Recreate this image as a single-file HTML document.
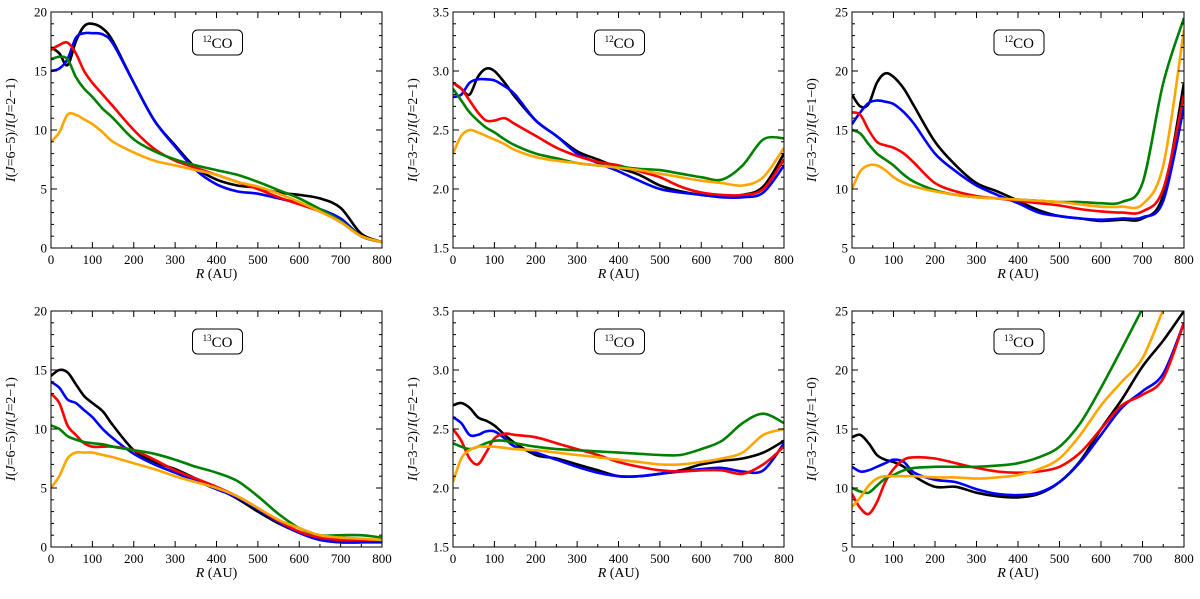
<!DOCTYPE html>
<html><head><meta charset="utf-8"><style>
body{margin:0;background:#fff}
svg{display:block}
text{font-family:"Liberation Serif",serif;fill:#000}
</style></head><body>
<svg id="fig" width="1200" height="599" viewBox="0 0 1200 599" xmlns="http://www.w3.org/2000/svg"></svg>
<script>
const radii=[0,20,40,60,80,100,125,150,200,250,300,350,400,450,500,550,600,650,700,750,800];
const seriesNames=["black","blue","red","green","orange"];
const seriesColors={black:"#000000",blue:"#0000ff",red:"#ff0000",green:"#008000",orange:"#ffa500"};
// Panel 1: 12CO I(6-5)/I(2-1)
const p1Black=[17,16.5,15.5,17.5,18.8,19,18.6,17.5,14,10.8,8.7,6.8,5.8,5.3,5.1,4.7,4.5,4.2,3.4,1.2,0.5];
const p1Blue=[15,15.2,16,17.8,18.2,18.2,18.1,17.3,14,10.8,8.6,6.6,5.4,4.8,4.6,4.2,3.8,3.3,2.5,1.0,0.5];
const p1Red=[16.8,17.2,17.4,16.5,15,14,13,12,10,8.4,7.4,6.8,6.2,5.6,5.0,4.3,3.7,3.1,2.2,1.0,0.5];
const p1Green=[16,16.2,16,14.5,13.5,12.8,11.8,11,9.2,8.2,7.5,7.0,6.6,6.2,5.6,4.9,4.2,3.3,2.3,1.0,0.5];
const p1Orange=[9,9.8,11.3,11.3,10.9,10.5,9.8,9.0,8.1,7.4,7.0,6.6,6.2,5.6,5.2,4.6,3.9,3.1,2.2,1.0,0.5];
// Panel 2: 12CO I(3-2)/I(2-1)
const p2Black=[2.9,2.85,2.8,2.95,3.02,3.0,2.9,2.78,2.58,2.45,2.32,2.25,2.18,2.12,2.03,1.98,1.95,1.94,1.95,2.02,2.3];
const p2Blue=[2.78,2.8,2.9,2.93,2.93,2.92,2.87,2.8,2.58,2.45,2.3,2.22,2.15,2.07,2.0,1.97,1.95,1.93,1.93,1.97,2.2];
const p2Red=[2.9,2.85,2.75,2.65,2.58,2.58,2.6,2.55,2.45,2.35,2.28,2.23,2.2,2.15,2.1,2.02,1.97,1.95,1.95,2.0,2.25];
const p2Green=[2.85,2.75,2.65,2.58,2.52,2.48,2.42,2.37,2.3,2.26,2.22,2.2,2.19,2.17,2.16,2.13,2.1,2.08,2.2,2.42,2.43];
const p2Orange=[2.3,2.45,2.5,2.48,2.45,2.42,2.38,2.33,2.27,2.24,2.22,2.2,2.18,2.16,2.13,2.1,2.07,2.05,2.03,2.1,2.35];
// Panel 3: 12CO I(3-2)/I(1-0)
const p3Black=[18,17,17.2,19,19.8,19.5,18.5,17,14,12,10.5,9.8,9,8.2,7.7,7.5,7.3,7.4,7.5,9.5,19];
const p3Blue=[15.5,16.5,17.3,17.5,17.4,17.2,16.5,15.5,13,11.5,10.3,9.5,8.8,8,7.7,7.5,7.4,7.5,7.6,9,17];
const p3Red=[16.5,16.3,15,14,13.7,13.5,13,12.2,10.5,9.8,9.4,9.2,9,8.8,8.6,8.3,8.1,8.0,8.1,10,18];
const p3Green=[15,14.7,13.8,13,12.5,12,11.2,10.6,9.9,9.5,9.3,9.2,9.1,9.0,8.9,8.9,8.8,8.9,10.5,19,24.5];
const p3Orange=[10,11.5,12,12,11.6,11,10.5,10.2,9.8,9.5,9.3,9.2,9.1,9.0,8.9,8.7,8.5,8.5,8.7,12,23.5];
// Panel 4: 13CO I(6-5)/I(2-1)
const p4Black=[14.5,15,14.8,13.8,12.8,12.2,11.5,10.3,8.2,7.2,6.6,5.8,5.0,4.1,3.0,2.0,1.2,0.6,0.4,0.4,0.5];
const p4Blue=[14,13.5,12.5,12.2,11.6,11,10,9.2,7.9,7.0,6.3,5.6,4.9,4.2,3.2,2.1,1.2,0.6,0.4,0.4,0.4];
const p4Red=[13,12.2,10.3,9.5,8.8,8.5,8.5,8.5,8.2,7.4,6.5,5.8,5.1,4.3,3.3,2.2,1.3,0.8,0.6,0.6,0.6];
const p4Green=[10.3,10,9.4,9.1,8.9,8.8,8.7,8.5,8.2,7.9,7.4,6.8,6.3,5.6,4.3,2.8,1.6,1.0,1.0,1.0,0.8];
const p4Orange=[5,6,7.5,8,8,8,7.8,7.6,7.1,6.6,6.0,5.5,5.0,4.3,3.3,2.3,1.6,1.0,0.8,0.7,0.6];
// Panel 5: 13CO I(3-2)/I(2-1)
const p5Black=[2.7,2.72,2.68,2.6,2.57,2.53,2.45,2.38,2.28,2.25,2.2,2.15,2.1,2.1,2.12,2.15,2.2,2.23,2.25,2.3,2.4];
const p5Blue=[2.6,2.55,2.45,2.45,2.48,2.48,2.42,2.35,2.3,2.24,2.18,2.13,2.1,2.1,2.12,2.14,2.16,2.17,2.14,2.15,2.38];
const p5Red=[2.5,2.4,2.25,2.2,2.3,2.42,2.46,2.45,2.43,2.38,2.33,2.28,2.22,2.18,2.15,2.14,2.15,2.15,2.12,2.2,2.35];
const p5Green=[2.38,2.35,2.33,2.35,2.38,2.4,2.4,2.38,2.35,2.33,2.32,2.31,2.3,2.29,2.28,2.28,2.33,2.4,2.55,2.63,2.55];
const p5Orange=[2.05,2.25,2.32,2.35,2.35,2.35,2.34,2.33,2.32,2.3,2.28,2.26,2.24,2.22,2.2,2.2,2.22,2.25,2.3,2.45,2.5];
// Panel 6: 13CO I(3-2)/I(1-0)
const p6Black=[14.3,14.5,13.8,12.8,12.4,12.2,11.8,11,10.1,10.1,9.6,9.3,9.2,9.5,10.5,12.3,15,17.5,20.3,22.5,25];
const p6Blue=[11.8,11.4,11.5,11.8,12.1,12.4,12.2,11.3,10.7,10.5,9.9,9.5,9.4,9.6,10.5,12.2,14.5,16.8,18.2,19.7,24];
const p6Red=[9.5,8.3,7.8,8.8,10.5,11.6,12.4,12.6,12.5,12.1,11.7,11.4,11.3,11.4,11.8,13,15,17,17.9,19.3,24];
const p6Green=[10,9.7,9.6,10.2,10.8,11.1,11.5,11.7,11.8,11.8,11.8,11.9,12.1,12.6,13.5,15.5,18.5,21.8,25.2,28.5,32];
const p6Orange=[8.4,9.2,10.2,10.8,11,11,11,11,10.9,10.9,10.8,10.9,11.1,11.6,12.5,14.5,17,19,21,25.1,29];

const yTicksA=[0,5,10,15,20], yTicksB=[1.5,2.0,2.5,3.0,3.5], yTicksC=[5,10,15,20,25];
const yTickLabelsB=["1.5","2.0","2.5","3.0","3.5"];
const xTicks=[0,100,200,300,400,500,600,700,800];

const panels=[
 {id:"p1",x0:51,x1:382,y0:12,y1:248,ymin:0,ymax:20,ticks:yTicksA,labels:null,minor:1,iso:"12",ylab:["6\u22125","2\u22121"],data:[p1Black,p1Blue,p1Red,p1Green,p1Orange]},
 {id:"p2",x0:453,x1:784,y0:12,y1:248,ymin:1.5,ymax:3.5,ticks:yTicksB,labels:yTickLabelsB,minor:0.1,iso:"12",ylab:["3\u22122","2\u22121"],data:[p2Black,p2Blue,p2Red,p2Green,p2Orange]},
 {id:"p3",x0:852,x1:1184,y0:12,y1:248,ymin:5,ymax:25,ticks:yTicksC,labels:null,minor:1,iso:"12",ylab:["3\u22122","1\u22120"],data:[p3Black,p3Blue,p3Red,p3Green,p3Orange]},
 {id:"p4",x0:51,x1:382,y0:311,y1:547,ymin:0,ymax:20,ticks:yTicksA,labels:null,minor:1,iso:"13",ylab:["6\u22125","2\u22121"],data:[p4Black,p4Blue,p4Red,p4Green,p4Orange]},
 {id:"p5",x0:453,x1:784,y0:311,y1:547,ymin:1.5,ymax:3.5,ticks:yTicksB,labels:yTickLabelsB,minor:0.1,iso:"13",ylab:["3\u22122","2\u22121"],data:[p5Black,p5Blue,p5Red,p5Green,p5Orange]},
 {id:"p6",x0:852,x1:1184,y0:311,y1:547,ymin:5,ymax:25,ticks:yTicksC,labels:null,minor:1,iso:"13",ylab:["3\u22122","1\u22120"],data:[p6Black,p6Blue,p6Red,p6Green,p6Orange]}
];
const NS="http://www.w3.org/2000/svg";
const svg=document.getElementById('fig');
function mk(tag,attrs,parent){const e=document.createElementNS(NS,tag);for(const k in attrs)e.setAttribute(k,attrs[k]);(parent||svg).appendChild(e);return e;}
function smoothPath(pts){let d="M"+pts[0][0].toFixed(1)+","+pts[0][1].toFixed(1);
 for(let i=0;i<pts.length-1;i++){const p0=pts[Math.max(0,i-1)],p1=pts[i],p2=pts[i+1],p3=pts[Math.min(pts.length-1,i+2)];
  const c1=[p1[0]+(p2[0]-p0[0])/6,p1[1]+(p2[1]-p0[1])/6],c2=[p2[0]-(p3[0]-p1[0])/6,p2[1]-(p3[1]-p1[1])/6];
  d+=" C"+c1[0].toFixed(1)+","+c1[1].toFixed(1)+" "+c2[0].toFixed(1)+","+c2[1].toFixed(1)+" "+p2[0].toFixed(1)+","+p2[1].toFixed(1);}
 return d;}
panels.forEach((p,pi)=>{
 const g=mk('g',{});
 
 
 const xs=v=>p.x0+(v/800)*(p.x1-p.x0);
 const ys=v=>p.y1-(v-p.ymin)/(p.ymax-p.ymin)*(p.y1-p.y0);
 const cp=mk('clipPath',{id:'clip'+pi},g);
 mk('rect',{x:p.x0,y:p.y0,width:p.x1-p.x0,height:p.y1-p.y0},cp);
 // series
 p.data.forEach((arr,si)=>{
  const pts=radii.map((r,i)=>[xs(r),ys(arr[i])]);
  const path=mk('path',{d:smoothPath(pts),fill:'none',stroke:seriesColors[seriesNames[si]],'stroke-width':2.6,'clip-path':'url(#clip'+pi+')','stroke-linejoin':'round'},g);
  
  
 });
 // frame
 const fr=mk('rect',{x:p.x0,y:p.y0,width:p.x1-p.x0,height:p.y1-p.y0,fill:'none',stroke:'#000','stroke-width':1},g);
 
 
 // x ticks
 for(let v=0;v<=800;v+=50){const X=xs(v),L=(v%100===0)?6:3;
  mk('line',{x1:X,x2:X,y1:p.y1,y2:p.y1-L,stroke:'#000'},g);mk('line',{x1:X,x2:X,y1:p.y0,y2:p.y0+L,stroke:'#000'},g);}
 xTicks.forEach(v=>{const t=mk('text',{x:xs(v),y:p.y1+16,'text-anchor':'middle','font-size':13},g);t.textContent=v;
  });
 // y ticks
 const n=Math.round((p.ymax-p.ymin)/p.minor);
 for(let i=0;i<=n;i++){const v=p.ymin+i*p.minor,Y=ys(v);const major=p.ticks.some(t=>Math.abs(t-v)<1e-6);const L=major?6:3;
  mk('line',{x1:p.x0,x2:p.x0+L,y1:Y,y2:Y,stroke:'#000'},g);mk('line',{x1:p.x1,x2:p.x1-L,y1:Y,y2:Y,stroke:'#000'},g);}
 p.ticks.forEach((v,i)=>{const t=mk('text',{x:p.x0-4,y:ys(v)+4.5,'text-anchor':'end','font-size':13},g);t.textContent=p.labels?p.labels[i]:v;
  });
 // x title
 const xt=mk('text',{x:(p.x0+p.x1)/2,y:p.y1+30,'text-anchor':'middle','font-size':14},g);
 xt.innerHTML='<tspan font-style="italic">R</tspan> (AU)';
 
 // y title
 const cy=(p.y0+p.y1)/2;
 const yt=mk('text',{x:p.x0-36,y:cy,'text-anchor':'middle','font-size':14,transform:'rotate(-90 '+(p.x0-36)+' '+cy+')'},g);
 yt.innerHTML='<tspan font-style="italic">I</tspan>(<tspan font-style="italic">J</tspan>='+p.ylab[0]+')/<tspan font-style="italic">I</tspan>(<tspan font-style="italic">J</tspan>='+p.ylab[1]+')';
 
 // legend box
 const bx=(p.x0+p.x1)/2-24;
 const lb=mk('rect',{x:bx,y:p.y0+18,width:50,height:25,rx:5,fill:'#fff',stroke:'#000','stroke-width':1},g);
 
 const lt=mk('text',{x:bx+25,y:p.y0+36,'text-anchor':'middle','font-size':15},g);
 lt.innerHTML='<tspan font-size="9" dy="-6">'+p.iso+'</tspan><tspan dy="6">CO</tspan>';
 
});
</script>
</body></html>
